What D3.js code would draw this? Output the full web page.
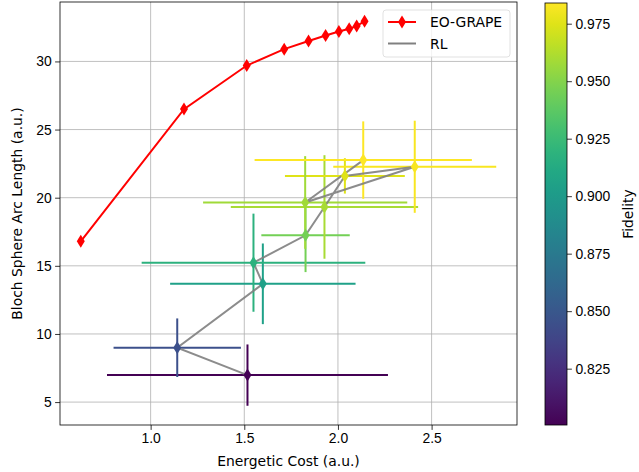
<!DOCTYPE html>
<html>
<head>
<meta charset="utf-8">
<script src="https://cdn.jsdelivr.net/npm/d3@7"></script>
<style>
  body { margin: 0; background: #fff; }
  svg { font-family: "DejaVu Sans", sans-serif; }
  .tick text { font-size: 13.9px; fill: #000; }
</style>
</head>
<body>
<svg id="svg" width="639" height="472"></svg>
<script>
'use strict';

// ================================= data ======================================
var grapeCost = [0.627, 1.178, 1.513, 1.713, 1.843, 1.934, 2.005, 2.06, 2.10, 2.142];
var grapeArc = [16.8, 26.5, 29.7, 30.9, 31.5, 31.9, 32.2, 32.4, 32.6, 32.95];

// RL points, in the order the gray line joins them
var rlCost = [1.517, 1.142, 1.599, 1.549, 1.827, 1.928, 2.037, 2.41, 1.825, 2.135];
var rlArc = [6.98, 8.99, 13.68, 15.23, 17.24, 19.32, 21.6, 22.27, 19.65, 22.76];
var rlCostErr = [0.75, 0.34, 0.495, 0.597, 0.236, 0.5, 0.32, 0.435, 0.545, 0.58];
var rlArcErr = [2.25, 2.15, 2.96, 3.6, 2.7, 3.8, 1.3, 3.38, 3.4, 2.84];
var rlFidelity = [0.8005, 0.845, 0.905, 0.918, 0.945, 0.960, 0.975, 0.982, 0.958, 0.984];

var xTicks = [1.0, 1.5, 2.0, 2.5];
var yTicks = [5, 10, 15, 20, 25, 30];
var cTicks = [0.825, 0.850, 0.875, 0.900, 0.925, 0.950, 0.975];

// ================================= layout ======================================
var svg = d3.select("#svg");
var plotL = 60, plotR = 517, plotT = 2, plotB = 425;
var cbL = 545, cbR = 567, cbT = 3, cbB = 425;

// autoscale like matplotlib (5% margins on data incl. error bars)
var xs = grapeCost.concat(rlCost.map((v, i) => v - rlCostErr[i]), rlCost.map((v, i) => v + rlCostErr[i]));
var ys = grapeArc.concat(rlArc.map((v, i) => v - rlArcErr[i]), rlArc.map((v, i) => v + rlArcErr[i]));
function padded(arr) {
    let lo = d3.min(arr), hi = d3.max(arr), m = (hi - lo) * 0.05;
    return [lo - m, hi + m];
}

var x = d3.scaleLinear().domain(padded(xs)).range([plotL, plotR]);
var y = d3.scaleLinear().domain(padded(ys)).range([plotB, plotT]);
var fidExtent = d3.extent(rlFidelity);
var color = d3.scaleSequential(d3.interpolateViridis).domain(fidExtent);
var cy = d3.scaleLinear().domain(fidExtent).range([cbB, cbT]);

// grid
var grid = svg.append("g").attr("stroke", "#b0b0b0").attr("stroke-width", 0.8);
grid.selectAll(".gx").data(xTicks).join("line")
    .attr("x1", d => x(d)).attr("x2", d => x(d)).attr("y1", plotT).attr("y2", plotB);
grid.selectAll(".gy").data(yTicks).join("line")
    .attr("y1", d => y(d)).attr("y2", d => y(d)).attr("x1", plotL).attr("x2", plotR);

// axes
var xAxis = svg.append("g").attr("transform", `translate(0,${plotB})`)
    .call(d3.axisBottom(x).tickValues(xTicks).tickFormat(d3.format(".1f")).tickSize(4.9).tickPadding(3.5));
var yAxis = svg.append("g").attr("transform", `translate(${plotL},0)`)
    .call(d3.axisLeft(y).tickValues(yTicks).tickFormat(d3.format("d")).tickSize(4.9).tickPadding(3.5));
[xAxis, yAxis].forEach(a => {
    a.select(".domain").remove();
    a.selectAll(".tick line").attr("stroke", "#000").attr("stroke-width", 0.8);
});

var defs = svg.append("defs");
defs.append("clipPath").attr("id", "clip")
    .append("rect").attr("x", plotL).attr("y", plotT).attr("width", plotR - plotL).attr("height", plotB - plotT);

var plot = svg.append("g").attr("clip-path", "url(#clip)");

var diamond = "M0,-6.5 L4,0 L0,6.5 L-4,0 Z";

// EO-GRAPE
plot.append("path")
    .datum(grapeCost.map((c, i) => [c, grapeArc[i]]))
    .attr("fill", "none").attr("stroke", "red").attr("stroke-width", 2)
    .attr("d", d3.line().x(d => x(d[0])).y(d => y(d[1])));
plot.selectAll(".gm").data(grapeCost).join("path")
    .attr("d", diamond).attr("fill", "red")
    .attr("transform", (d, i) => `translate(${x(d)},${y(grapeArc[i])})`);

// RL error bars
var rl = rlCost.map((c, i) => ({ c: c, a: rlArc[i], ce: rlCostErr[i], ae: rlArcErr[i], f: rlFidelity[i] }));
var eb = plot.append("g").attr("stroke-width", 2);
rl.forEach(d => {
    eb.append("line").attr("stroke", color(d.f))
        .attr("x1", x(d.c - d.ce)).attr("x2", x(d.c + d.ce)).attr("y1", y(d.a)).attr("y2", y(d.a));
    eb.append("line").attr("stroke", color(d.f))
        .attr("x1", x(d.c)).attr("x2", x(d.c)).attr("y1", y(d.a - d.ae)).attr("y2", y(d.a + d.ae));
});

plot.append("path")
    .datum(rl)
    .attr("fill", "none").attr("stroke", "gray").attr("stroke-width", 2).attr("opacity", 0.9)
    .attr("d", d3.line().x(d => x(d.c)).y(d => y(d.a)));

plot.selectAll(".rm").data(rl).join("path")
    .attr("d", diamond).attr("fill", d => color(d.f))
    .attr("transform", d => `translate(${x(d.c)},${y(d.a)})`);

// spines
svg.append("rect").attr("x", plotL).attr("y", plotT).attr("width", plotR - plotL).attr("height", plotB - plotT)
    .attr("fill", "none").attr("stroke", "#000").attr("stroke-width", 0.8);

// labels
svg.append("text").attr("x", (plotL + plotR) / 2).attr("y", 466).attr("text-anchor", "middle")
    .attr("font-size", "13.9px").text("Energetic Cost (a.u.)");
svg.append("text").attr("transform", `translate(22,${(plotT + plotB) / 2}) rotate(-90)`)
    .attr("text-anchor", "middle").attr("font-size", "13.9px").text("Bloch Sphere Arc Length (a.u.)");

// legend
var lg = svg.append("g");
lg.append("rect").attr("x", 383).attr("y", 10).attr("width", 127).attr("height", 47).attr("rx", 3)
    .attr("fill", "#fff").attr("fill-opacity", 0.8).attr("stroke", "#d9d9d9").attr("stroke-width", 0.8);
lg.append("line").attr("x1", 388).attr("x2", 416).attr("y1", 22).attr("y2", 22)
    .attr("stroke", "red").attr("stroke-width", 2);
lg.append("path").attr("d", diamond).attr("fill", "red").attr("transform", "translate(402,22)");
lg.append("line").attr("x1", 388).attr("x2", 416).attr("y1", 43.5).attr("y2", 43.5)
    .attr("stroke", "gray").attr("stroke-width", 2);
lg.append("text").attr("x", 430).attr("y", 27).attr("font-size", "13.9px").text("EO-GRAPE");
lg.append("text").attr("x", 430).attr("y", 48.5).attr("font-size", "13.9px").text("RL");

// colorbar
var grad = defs.append("linearGradient").attr("id", "cbgrad")
    .attr("x1", 0).attr("x2", 0).attr("y1", 1).attr("y2", 0);
d3.range(0, 1.0001, 0.05).forEach(t => {
    grad.append("stop").attr("offset", t).attr("stop-color", d3.interpolateViridis(t));
});
svg.append("rect").attr("x", cbL).attr("y", cbT).attr("width", cbR - cbL).attr("height", cbB - cbT)
    .attr("fill", "url(#cbgrad)").attr("stroke", "#000").attr("stroke-width", 0.8);
var cAxis = svg.append("g").attr("transform", `translate(${cbR},0)`)
    .call(d3.axisRight(cy).tickValues(cTicks).tickFormat(d3.format(".3f")).tickSize(4.9).tickPadding(3.5));
cAxis.select(".domain").remove();
cAxis.selectAll(".tick line").attr("stroke", "#000").attr("stroke-width", 0.8);
svg.append("text").attr("transform", `translate(633,${(cbT + cbB) / 2}) rotate(-90)`)
    .attr("text-anchor", "middle").attr("font-size", "13.9px").text("Fidelity");
</script>
</body>
</html>
